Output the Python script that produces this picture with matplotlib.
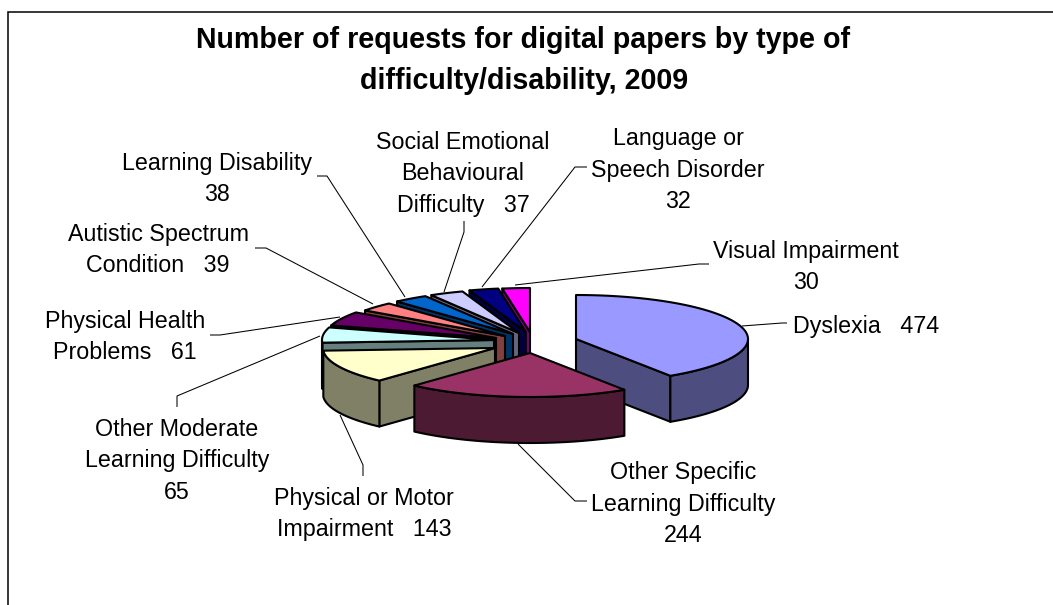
import numpy as np
import matplotlib
matplotlib.use("Agg")
import matplotlib.pyplot as plt
from matplotlib.patches import Polygon

plt.rcParams["font.family"] = ["Liberation Sans", "DejaVu Sans"]

# Requests per difficulty, clockwise from twelve o'clock
categories = [
    "Dyslexia", "Other Specific\nLearning Difficulty", "Physical or Motor\nImpairment",
    "Other Moderate\nLearning Difficulty", "Physical Health\nProblems",
    "Autistic Spectrum\nCondition", "Learning Disability",
    "Social Emotional\nBehavioural\nDifficulty", "Language or\nSpeech Disorder",
    "Visual Impairment",
]
requests = [474, 244, 143, 65, 61, 39, 38, 37, 32, 30]
value_sep = ["   ", "\n", "   ", "\n", "   ", "   ", "\n", "   ", "\n", "\n"]

top_colors = ["#9999FF", "#993366", "#FFFFCC", "#CCFFFF", "#660066",
              "#FF8080", "#0066CC", "#CCCCFF", "#000080", "#FF00FF"]
side_colors = ["#4D4D80", "#4D1A33", "#808066", "#668080", "#330033",
               "#804040", "#003366", "#666680", "#000040", "#800080"]

# Apex of each exploded slice on the top face, in figure pixels
apexes = [(576, 339), (530, 353), (495, 348), (494, 340), (496, 338),
          (505, 336), (513, 334), (519, 333), (526, 332), (530, 332)]

# Centre of each label block and the leader line running to it
label_pos = [(866, 327), (683, 504), (364, 514), (177, 461), (125, 337),
             (158, 250), (217, 179), (463, 174), (678, 170), (806, 267)]
leaders = [
    [(742, 326), (782, 323), (787, 323)],
    [(518, 444), (575, 501), (587, 501)],
    [(340, 415), (363, 465), (363, 476)],
    [(320, 336), (177, 396), (177, 407)],
    [(340, 317), (220, 335), (210, 335)],
    [(373, 304), (266, 248), (255, 248)],
    [(405, 297), (327, 176), (317, 176)],
    [(444, 292), (464, 232), (464, 221)],
    [(482, 287), (575, 167), (587, 167)],
    [(515, 285), (699, 264), (709, 264)],
]

RX, RY, DEPTH = 172, 44, 46
EDGE = dict(edgecolor="black", linewidth=1.5, joinstyle="round")

fig = plt.figure(figsize=(10.53, 6.05), dpi=100, facecolor="white")
ax = fig.add_axes([0, 0, 1, 1])
ax.set_xlim(0, 1053)
ax.set_ylim(605, 0)
ax.axis("off")


def rim(apex, degrees):
    t = np.radians(degrees)
    return np.column_stack([apex[0] + RX * np.sin(t), apex[1] - RY * np.cos(t)])


def draw_slice(apex, start, end, top, side, z):
    drop = np.array([0, DEPTH])
    centre = np.array(apex, dtype=float)
    # Radial walls that face the viewer
    for angle, seen in ((start, 180 < start < 360), (end, 0 < end < 180)):
        if seen:
            p = rim(apex, [angle])[0]
            ax.add_patch(Polygon([centre, p, p + drop, centre + drop],
                                 facecolor=side, zorder=z, **EDGE))
    # Curved outer wall on the near half of the ellipse
    lo, hi = max(start, 90), min(end, 270)
    if lo < hi:
        arc = rim(apex, np.linspace(lo, hi, 60))
        ax.add_patch(Polygon(np.vstack([arc, arc[::-1] + drop]),
                             facecolor=side, zorder=z + 0.1, **EDGE))
    # Top face
    arc = rim(apex, np.linspace(start, end, 80))
    ax.add_patch(Polygon(np.vstack([centre, arc]), facecolor=top,
                         zorder=z + 0.2, **EDGE))


edges = np.concatenate([[0], np.cumsum(requests)]) * 360 / sum(requests)

# Paint the far slices first, right to left, then the large near ones
paint_order = [9, 8, 7, 6, 5, 4, 3, 2, 0, 1]
for z, i in enumerate(paint_order):
    draw_slice(apexes[i], edges[i], edges[i + 1], top_colors[i], side_colors[i], 3 + z)

for name, value, sep, (x, y), path in zip(categories, requests, value_sep, label_pos, leaders):
    ax.text(x, y, f"{name}{sep}{value}", ha="center", va="center", fontsize=16.75,
            color="black", linespacing=1.45, zorder=30)
    xs, ys = zip(*path)
    ax.plot(xs, ys, color="black", lw=0.75, zorder=29, solid_capstyle="butt")

# Chart title
ax.text(523, 40, "Number of requests for digital papers by type of", ha="center", va="center",
        fontsize=20.6, fontweight="bold", zorder=30)
ax.text(524, 81, "difficulty/disability, 2009", ha="center", va="center",
        fontsize=20.6, fontweight="bold", zorder=30)

# Chart area border: only the top and left edges fall inside the frame
ax.plot([1053, 8, 8], [12, 12, 605], color="black", lw=1.1, zorder=1, solid_joinstyle="miter")

fig.savefig("out.png", dpi=100)
